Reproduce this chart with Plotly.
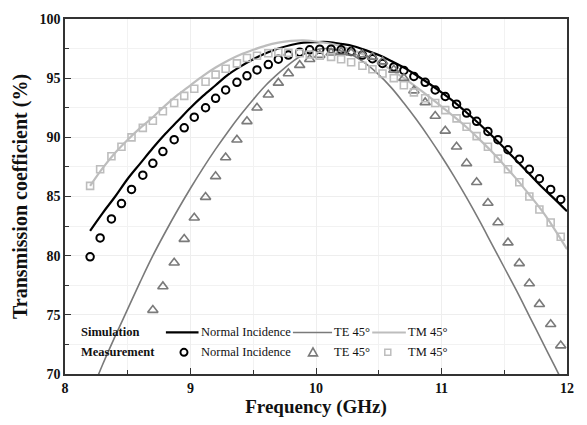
import plotly.graph_objects as go

# ---------------- data ----------------
sim_freq = [8.2, 8.3, 8.4, 8.5, 8.6, 8.7, 8.8, 8.9, 9.0, 9.1, 9.2, 9.3, 9.4, 9.5, 9.6, 9.7, 9.8, 9.9,
            10.0, 10.1, 10.2, 10.3, 10.4, 10.5, 10.6, 10.7, 10.8, 10.9, 11.0, 11.1, 11.2, 11.3, 11.4,
            11.5, 11.6, 11.7, 11.8, 11.9, 12.0]
sim_normal = [82.1, 83.6, 85.0, 86.5, 87.8, 89.1, 90.3, 91.4, 92.5, 93.5, 94.4, 95.3, 96.0, 96.6, 97.1,
              97.5, 97.8, 98.0, 98.05, 98.05, 97.9, 97.7, 97.35, 96.95, 96.45, 95.9, 95.25, 94.55,
              93.8, 93.0, 92.1, 91.15, 90.15, 89.1, 88.0, 86.9, 85.8, 84.8, 83.75]
sim_te45 = [68.2, 70.8, 73.2, 75.5, 77.8, 80.0, 82.0, 83.9, 85.7, 87.4, 89.0, 90.5, 91.9, 93.2, 94.4,
            95.4, 96.3, 97.0, 97.4, 97.5, 97.3, 96.9, 96.2, 95.3, 94.2, 92.9, 91.5, 90.0, 88.4, 86.7,
            84.9, 83.0, 81.0, 79.0, 77.0, 74.9, 72.8, 70.7, 68.6]
sim_tm45 = [85.9, 87.4, 88.7, 89.8, 90.8, 91.7, 92.7, 93.6, 94.4, 95.2, 95.9, 96.5, 97.0, 97.4, 97.75,
            98.0, 98.15, 98.2, 98.1, 97.95, 97.7, 97.35, 96.9, 96.35, 95.7, 95.0, 94.25, 93.45, 92.6,
            91.75, 90.85, 89.85, 88.8, 87.65, 86.45, 85.15, 83.8, 82.25, 80.55]

meas_freq = [8.20, 8.28, 8.37, 8.45, 8.53, 8.62, 8.70, 8.78, 8.87, 8.95, 9.03, 9.12, 9.20, 9.28, 9.37,
             9.45, 9.53, 9.62, 9.70, 9.78, 9.87, 9.95, 10.03, 10.12, 10.20, 10.28, 10.37, 10.45,
             10.53, 10.62, 10.70, 10.78, 10.87, 10.95, 11.03, 11.12, 11.20, 11.28, 11.37, 11.45,
             11.53, 11.62, 11.70, 11.78, 11.87, 11.95]
meas_normal = [79.9, 81.5, 83.1, 84.4, 85.6, 86.8, 87.8, 88.8, 89.8, 90.8, 91.7, 92.5, 93.3, 94.0, 94.65,
               95.2, 95.7, 96.15, 96.6, 96.95, 97.2, 97.4, 97.45, 97.45, 97.4, 97.25, 96.95, 96.65,
               96.25, 95.95, 95.65, 95.15, 94.65, 94.0, 93.45, 92.8, 92.05, 91.35, 90.5, 89.8,
               88.95, 88.15, 87.3, 86.5, 85.6, 84.75]
meas_te_freq = meas_freq[6:]
meas_te45 = [75.4, 77.4, 79.4, 81.4, 83.2, 84.95, 86.7, 88.3, 89.8, 91.35, 92.5, 93.6, 94.6, 95.4, 96.1,
             96.6, 96.95, 97.15, 97.2, 97.15, 97.0, 96.8, 96.4, 95.7, 95.0, 93.95, 92.95, 91.8,
             90.55, 89.2, 87.8, 86.2, 84.45, 82.8, 81.1, 79.35, 77.65, 75.9, 74.2, 72.4]
meas_tm45 = [85.9, 87.3, 88.4, 89.2, 90.0, 90.8, 91.4, 92.2, 92.9, 93.5, 94.1, 94.7, 95.3, 95.8, 96.25,
             96.7, 96.9, 97.1, 97.2, 97.15, 97.1, 97.0, 96.9, 96.8, 96.6, 96.35, 96.05, 95.75,
             95.4, 95.0, 94.4, 93.8, 93.3, 92.9, 92.3, 91.6, 90.9, 90.1, 89.2, 88.2,
             87.3, 86.2, 85.0, 83.9, 82.8, 81.6]

x_ticks = [8, 9, 10, 11, 12]
y_ticks = [70, 75, 80, 85, 90, 95, 100]

# ---------------- styles ----------------
C_NORMAL = "#000000"
C_TE = "#7a7a7a"
C_TM = "#bdbdbd"
FONT = "Liberation Serif"

fig = go.Figure()
fig.add_trace(go.Scatter(x=sim_freq, y=sim_normal, mode="lines", line=dict(color=C_NORMAL, width=2.2, shape="spline"), showlegend=False))
fig.add_trace(go.Scatter(x=sim_freq, y=sim_te45, mode="lines", line=dict(color=C_TE, width=1.6, shape="spline"), showlegend=False))
fig.add_trace(go.Scatter(x=sim_freq, y=sim_tm45, mode="lines", line=dict(color=C_TM, width=2.2, shape="spline"), showlegend=False))
fig.add_trace(go.Scatter(x=meas_freq, y=meas_normal, mode="markers",
                         marker=dict(symbol="circle-open", size=7.5, color=C_NORMAL, line=dict(width=2)), showlegend=False))
fig.add_trace(go.Scatter(x=meas_te_freq, y=meas_te45, mode="markers",
                         marker=dict(symbol="triangle-up-open", size=9, color=C_TE, line=dict(width=1.6)), showlegend=False))
fig.add_trace(go.Scatter(x=meas_freq, y=meas_tm45, mode="markers",
                         marker=dict(symbol="square-open", size=7, color=C_TM, line=dict(width=1.6)), showlegend=False))

# ---------------- legend (custom, two rows) ----------------
row1, row2 = 0.117, 0.061
ann = []
def txt(x, y, s, bold=False):
    ann.append(dict(x=x, y=y, xref="paper", yref="paper", xanchor="left", yanchor="middle",
                    text=("<b>%s</b>" % s) if bold else s, showarrow=False,
                    font=dict(family=FONT, size=12.5, color="#111")))
txt(0.028, row1, "Simulation", True)
txt(0.028, row2, "Measurement", True)
for y in (row1, row2):
    txt(0.266, y, "Normal Incidence")
    txt(0.532, y, "TE 45°")
    txt(0.680, y, "TM 45°")

shapes = []
for (x0, x1, c, w) in [(0.201, 0.266, C_NORMAL, 2.2), (0.454, 0.532, C_TE, 1.6), (0.612, 0.679, C_TM, 2.0)]:
    shapes.append(dict(type="line", xref="paper", yref="paper", x0=x0, x1=x1, y0=row1, y1=row1,
                       line=dict(color=c, width=w)))
shapes.append(dict(type="circle", xref="paper", yref="paper", xsizemode="pixel", ysizemode="pixel",
                   xanchor=0.237, yanchor=row2, x0=-3.5, x1=3.5, y0=-3.5, y1=3.5,
                   line=dict(color=C_NORMAL, width=2)))
shapes.append(dict(type="path", xref="paper", yref="paper", xsizemode="pixel", ysizemode="pixel",
                   xanchor=0.494, yanchor=row2, path="M -4.5 -3.5 L 4.5 -3.5 L 0 4.5 Z",
                   line=dict(color=C_TE, width=1.6)))
shapes.append(dict(type="rect", xref="paper", yref="paper", xsizemode="pixel", ysizemode="pixel",
                   xanchor=0.643, yanchor=row2, x0=-3, x1=3, y0=-3, y1=3,
                   line=dict(color=C_TM, width=1.5)))

fig.update_layout(
    width=587, height=425,
    margin=dict(l=65, r=20, t=17, b=48),
    paper_bgcolor="white", plot_bgcolor="white",
    font=dict(family=FONT, color="#111"),
    annotations=ann, shapes=shapes,
    showlegend=False,
)
fig.update_xaxes(
    range=[8, 12], tickvals=x_ticks, ticktext=["<b>%d</b>" % v for v in x_ticks],
    tickfont=dict(family=FONT, size=14, color="#111"),
    ticks="inside", ticklen=6, tickwidth=1.3, tickcolor="#333",
    showline=True, linecolor="#333", linewidth=1.5, mirror=True,
    showgrid=True, gridcolor="#eeeeee", gridwidth=1, zeroline=False,
    minor=dict(dtick=0.5, ticks="inside", ticklen=4, tickcolor="#333", showgrid=True, gridcolor="#f2f2f2"),
    title=dict(text="<b>Frequency (GHz)</b>", font=dict(family=FONT, size=19, color="#111"), standoff=4),
)
fig.update_yaxes(
    range=[70, 100], tickvals=y_ticks, ticktext=["<b>%d</b>" % v for v in y_ticks],
    tickfont=dict(family=FONT, size=14, color="#111"),
    ticks="inside", ticklen=6, tickwidth=1.3, tickcolor="#333",
    showline=True, linecolor="#333", linewidth=1.5, mirror=True,
    showgrid=True, gridcolor="#eeeeee", gridwidth=1, zeroline=False,
    minor=dict(dtick=2.5, ticks="inside", ticklen=4, tickcolor="#333", showgrid=True, gridcolor="#f2f2f2"),
    title=dict(text="<b>Transmission coefficient (%)</b>", font=dict(family=FONT, size=20, color="#111"), standoff=6),
)

fig.write_html("out.html")
